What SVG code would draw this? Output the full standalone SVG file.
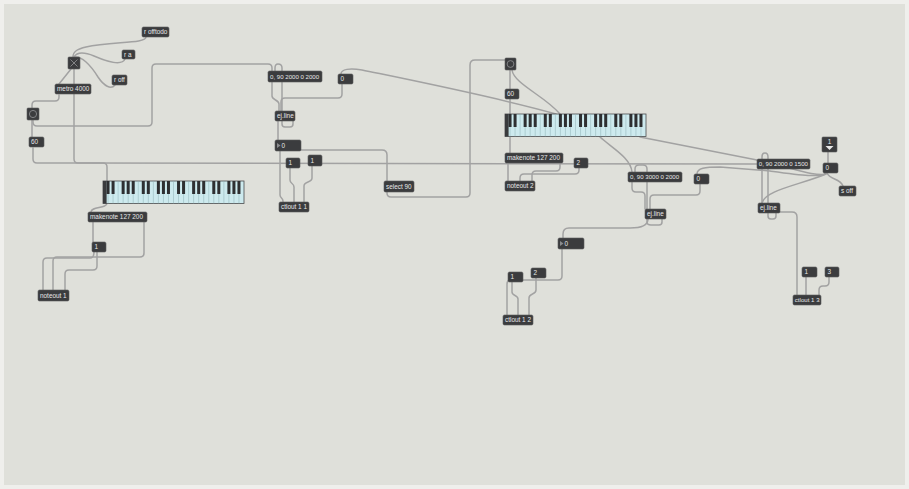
<svg xmlns="http://www.w3.org/2000/svg" xmlns:xlink="http://www.w3.org/1999/xlink" width="909" height="489" viewBox="0 0 909 489">
<style>
.bx{fill:#3b3c3e;stroke:#5a5b5d;stroke-width:0.6}
.t{font-family:"Liberation Sans",Arial,sans-serif;font-size:6.4px;fill:#e8e8e8}
.s{font-size:6.1px}
.c{fill:none;stroke:#a2a2a2;stroke-width:1.5;stroke-linecap:round;stroke-linejoin:round}
.ic{fill:none;stroke:#8a8b8d;stroke-width:0.9}
.tri{fill:#8a8b8d}
</style>
<defs>
<g id="kbdef">
<rect x="0" y="0" width="141" height="22.5" fill="#cdeaee" stroke="#4a4b4d" stroke-width="0.8"/>
<path d="M5.04 0V22.5M10.07 0V22.5M15.11 0V22.5M20.14 0V22.5M25.18 0V22.5M30.21 0V22.5M35.25 0V22.5M40.29 0V22.5M45.32 0V22.5M50.36 0V22.5M55.39 0V22.5M60.43 0V22.5M65.46 0V22.5M70.5 0V22.5M75.54 0V22.5M80.57 0V22.5M85.61 0V22.5M90.64 0V22.5M95.68 0V22.5M100.71 0V22.5M105.75 0V22.5M110.79 0V22.5M115.82 0V22.5M120.86 0V22.5M125.89 0V22.5M130.93 0V22.5M135.96 0V22.5" stroke="#8fb0b5" stroke-width="0.5"/>
<rect x="0" y="0" width="3.6" height="22.5" fill="#3a3b3d"/>
<g fill="#2e2f31">
<rect x="3.54" y="0" width="3" height="13"/><rect x="8.57" y="0" width="3" height="13"/><rect x="18.64" y="0" width="3" height="13"/><rect x="23.68" y="0" width="3" height="13"/><rect x="28.71" y="0" width="3" height="13"/>
<rect x="38.79" y="0" width="3" height="13"/><rect x="43.82" y="0" width="3" height="13"/><rect x="53.89" y="0" width="3" height="13"/><rect x="58.93" y="0" width="3" height="13"/><rect x="63.96" y="0" width="3" height="13"/>
<rect x="74.04" y="0" width="3" height="13"/><rect x="79.07" y="0" width="3" height="13"/><rect x="89.14" y="0" width="3" height="13"/><rect x="94.18" y="0" width="3" height="13"/><rect x="99.21" y="0" width="3" height="13"/>
<rect x="109.29" y="0" width="3" height="13"/><rect x="114.32" y="0" width="3" height="13"/><rect x="124.39" y="0" width="3" height="13"/><rect x="129.43" y="0" width="3" height="13"/><rect x="134.46" y="0" width="3" height="13"/>
</g>
</g>
</defs>
<rect x="0" y="0" width="909" height="489" fill="#efefec"/>
<rect x="4" y="4" width="901" height="481" fill="#dfe0da"/>

<g id="connectors">
<path class="c" d="M146 37 C146 44,110 41,86 47 C78 49,73 51,73 57"/>
<path class="c" d="M125 59 C122 66,108 62,94 56 C84 52,77 52,74 57"/>
<path class="c" d="M115 85 C111 90,104 86,98 77 C90 64,81 56,75 57"/>
<path class="c" d="M71 69 L59 84"/>
<path class="c" d="M74 69 L74 159 Q74 163 78 163 L757 164"/>
<path class="c" d="M59 95 L59 97 Q59 101 55 101 L36 101 Q32 101 32 105 L32 108"/>
<path class="c" d="M32 120 L32 137"/>
<path class="c" d="M33 120 L33 122 Q33 126 37 126 L148 126 Q152 126 152 122 L152 68 Q152 64 156 64 L268 64 Q272 64 272 68 L272 71"/>
<path class="c" d="M33 148 L33 159 Q33 163 37 163 L103 163 Q107 163 107 167 L107 181"/>
<path class="c" d="M107 203 C107 209,91 206,91 212"/>
<path class="c" d="M93 222 L93 242"/>
<path class="c" d="M94 252 Q94 258 90 258 L47 258 Q43 258 43 262 L43 290"/>
<path class="c" d="M97 252 L97 266 Q97 270 93 270 L69 270 Q65 270 65 274 L65 290"/>
<path class="c" d="M144 222 L144 253 Q144 257 140 257 L57 257 Q53 257 53 261 L53 290"/>
<path class="c" d="M272 82 L272 96 C272 100,279 100,279 104 L279 111"/>
<path class="c" d="M342 84 L342 94 Q342 98 338 98 L285 98 Q281 98 281 102 L281 111"/>
<path class="c" d="M293 121 L293 124 Q293 127 290 127 L285 127 Q282 127 282 124 L282 68 Q282 64 278 64 Q275 64 275 68 L275 71"/>
<path class="c" d="M278 121 L278 140"/>
<path class="c" d="M280 151 L280 195 C280 198,283 198,283 201 L283 202"/>
<path class="c" d="M279 150 L382 150 Q387 150 387 155 L387 181"/>
<path class="c" d="M290 168 L290 180 C290 184,294 183,294 187 L294 202"/>
<path class="c" d="M312 166 L312 178 C312 183,304 181,304 186 L304 202"/>
<path class="c" d="M387 192 L387 193 Q387 197 391 197 L466 197 Q470 197 470 193 L470 65 Q470 60 475 60 L505 60"/>
<path class="c" d="M341 74 C341 69,350 68,362 70 C420 82,500 98,556 114"/>
<path class="c" d="M512 70 C514 84,545 96,560 114"/>
<path class="c" d="M510 70 L510 89"/>
<path class="c" d="M510 99 L510 114"/>
<path class="c" d="M510 137 L510 153"/>
<path class="c" d="M508 163 L508 181"/>
<path class="c" d="M560 163 L560 167 Q560 171 556 171 L536 171 Q532 171 532 175 L532 181"/>
<path class="c" d="M579 168 L579 170 Q579 174 575 174 L524 174 Q520 174 520 178 L520 181"/>
<path class="c" d="M600 137 C612 148,631 158,632 172"/>
<path class="c" d="M662 219 L662 222 Q662 225 659 225 L651 225 Q647 225 647 222 L647 169 Q647 165 643 165 L639 165 Q635 165 635 169 L635 172"/>
<path class="c" d="M632 182 L632 188 Q632 192 636 192 L641 192 Q645 192 645 196 L645 209"/>
<path class="c" d="M700 184 L700 191 Q700 195 696 195 L654 195 Q650 195 650 199 L650 209"/>
<path class="c" d="M648 219 C648 226,640 228,630 228 L569 228 Q563 228 563 234 L563 238"/>
<path class="c" d="M562 249 L562 276 Q562 280 558 280 L511 280 Q507 280 507 284 L507 315"/>
<path class="c" d="M512 282 L512 292 C512 296,518 295,518 299 L518 315"/>
<path class="c" d="M536 278 L536 290 C536 295,529 293,529 298 L529 315"/>
<path class="c" d="M697 174 C697 168,705 167,720 167 L770 171 C800 175,822 178,826 173"/>
<path class="c" d="M640 137 L757 160 C790 167,815 177,826 174"/>
<path class="c" d="M762 203 C765 190,800 185,826 174"/>
<path class="c" d="M827 173 C830 180,840 178,843 186"/>
<path class="c" d="M828 152 L828 163"/>
<path class="c" d="M762 169 L762 203"/>
<path class="c" d="M776 213 L776 216 Q776 219 773 219 L771 219 Q768 219 768 216 L768 157 Q768 153 765 153 Q762 153 762 157 L762 159"/>
<path class="c" d="M778 212 L792 212 Q797 212 797 217 L797 295"/>
<path class="c" d="M806 277 L806 295"/>
<path class="c" d="M829 277 L829 282 Q829 286 825 286 L823 286 Q819 286 819 290 L819 295"/>
</g>

<g id="r_offtodo"><rect class="bx" x="142" y="27" width="27" height="10" rx="1.5"/><text class="t" x="144" y="34.3">r offtodo</text></g>
<g id="r_a"><rect class="bx" x="122" y="50" width="13" height="9" rx="1.5"/><text class="t" x="124" y="57">r a</text></g>
<g id="toggle1"><rect class="bx" x="68" y="57" width="12" height="12" rx="1"/><path class="ic" d="M70.5 59.5 L77.5 66.5 M77.5 59.5 L70.5 66.5"/></g>
<g id="r_off"><rect class="bx" x="112" y="75" width="15" height="10" rx="1.5"/><text class="t" x="114" y="82.3">r off</text></g>
<g id="metro"><rect class="bx" x="55" y="84" width="36" height="10" rx="1.5"/><text class="t" x="57" y="91.3">metro 4000</text></g>
<g id="button1"><rect class="bx" x="27" y="108" width="12" height="12" rx="1"/><circle class="ic" cx="33" cy="114" r="3.6"/></g>
<g id="num60a"><rect class="bx" x="29" y="137" width="15" height="10" rx="1.5"/><text class="t" x="31" y="144.3">60</text></g>
<g id="kslider1"><use xlink:href="#kbdef" transform="translate(103,181)"/></g>
<g id="makenote1"><rect class="bx" x="88" y="212" width="59" height="10" rx="1.5"/><text class="t" x="90" y="219.3">makenote 127 200</text></g>
<g id="msg1a"><rect class="bx" x="92" y="242" width="14" height="10" rx="1.5"/><text class="t" x="94.5" y="249.3">1</text></g>
<g id="noteout1"><rect class="bx" x="38" y="290" width="31" height="11" rx="1.5"/><text class="t" x="40" y="297.8">noteout 1</text></g>

<g id="msgA"><rect class="bx" x="268" y="71" width="54" height="11" rx="1.5"/><text class="t s" x="270" y="78.6">0, 90 2000 0 2000</text></g>
<g id="msg0a"><rect class="bx" x="338" y="74" width="15" height="10" rx="1.5"/><text class="t" x="340.5" y="81.3">0</text></g>
<g id="ejline1"><rect class="bx" x="275" y="111" width="20" height="10" rx="1.5"/><text class="t" x="277" y="118.3">ej.line</text></g>
<g id="flonum1"><rect class="bx" x="275" y="140" width="26" height="11" rx="1.5"/><polygon class="tri" points="277,143 277,148 280.5,145.5"/><text class="t" x="281.5" y="147.8">0</text></g>
<g id="msg1b"><rect class="bx" x="286" y="158" width="14" height="10" rx="1.5"/><text class="t" x="288.5" y="165.3">1</text></g>
<g id="msg1c"><rect class="bx" x="308" y="155" width="14" height="11" rx="1.5"/><text class="t" x="310.5" y="162.8">1</text></g>
<g id="ctlout11"><rect class="bx" x="279" y="202" width="30" height="10" rx="1.5"/><text class="t" x="281" y="209.3">ctlout 1 1</text></g>
<g id="select90"><rect class="bx" x="384" y="181" width="30" height="11" rx="1.5"/><text class="t" x="386" y="188.8">select 90</text></g>

<g id="button2"><rect class="bx" x="505" y="58" width="11" height="12" rx="1"/><circle class="ic" cx="510.5" cy="64" r="3.4"/></g>
<g id="num60b"><rect class="bx" x="505" y="89" width="14" height="10" rx="1.5"/><text class="t" x="507" y="96.3">60</text></g>
<g id="kslider2"><use xlink:href="#kbdef" transform="translate(505,114)"/></g>
<g id="makenote2"><rect class="bx" x="505" y="153" width="58" height="10" rx="1.5"/><text class="t" x="507" y="160.3">makenote 127 200</text></g>
<g id="msg2"><rect class="bx" x="574" y="158" width="14" height="10" rx="1.5"/><text class="t" x="576.5" y="165.3">2</text></g>
<g id="noteout2"><rect class="bx" x="505" y="181" width="30" height="10" rx="1.5"/><text class="t" x="507" y="188.3">noteout 2</text></g>

<g id="msgB"><rect class="bx" x="628" y="172" width="54" height="10" rx="1.5"/><text class="t s" x="630" y="179.3">0, 90 3000 0 2000</text></g>
<g id="msg0b"><rect class="bx" x="694" y="174" width="15" height="10" rx="1.5"/><text class="t" x="696.5" y="181.3">0</text></g>
<g id="ejline2"><rect class="bx" x="645" y="209" width="21" height="10" rx="1.5"/><text class="t" x="647" y="216.3">ej.line</text></g>
<g id="flonum2"><rect class="bx" x="558" y="238" width="26" height="11" rx="1.5"/><polygon class="tri" points="560,241 560,246 563.5,243.5"/><text class="t" x="564.5" y="245.8">0</text></g>
<g id="msg1d"><rect class="bx" x="508" y="272" width="15" height="10" rx="1.5"/><text class="t" x="510.5" y="279.3">1</text></g>
<g id="msg2b"><rect class="bx" x="531" y="268" width="15" height="10" rx="1.5"/><text class="t" x="533.5" y="275.3">2</text></g>
<g id="ctlout12"><rect class="bx" x="503" y="315" width="30" height="10" rx="1.5"/><text class="t" x="505" y="322.3">ctlout 1 2</text></g>

<g id="msgC"><rect class="bx" x="757" y="159" width="53" height="10" rx="1.5"/><text class="t s" x="758.8" y="166.3">0, 90 2000 0 1500</text></g>
<g id="menu1"><rect class="bx" x="822" y="137" width="15" height="15" rx="1"/><text class="t" x="827.8" y="143.6">1</text><polygon points="825.5,146 833.5,146 829.5,150" fill="#e8e8e8"/></g>
<g id="msg0c"><rect class="bx" x="823" y="163" width="15" height="10" rx="1.5"/><text class="t" x="825.5" y="170.3">0</text></g>
<g id="s_off"><rect class="bx" x="839" y="186" width="17" height="10" rx="1.5"/><text class="t" x="841" y="193.3">s off</text></g>
<g id="ejline3"><rect class="bx" x="758" y="203" width="22" height="10" rx="1.5"/><text class="t" x="760" y="210.3">ej.line</text></g>
<g id="msg1e"><rect class="bx" x="802" y="267" width="15" height="10" rx="1.5"/><text class="t" x="804.5" y="274.3">1</text></g>
<g id="msg3"><rect class="bx" x="825" y="267" width="14" height="10" rx="1.5"/><text class="t" x="827.5" y="274.3">3</text></g>
<g id="ctlout13"><rect class="bx" x="793" y="295" width="28" height="10" rx="1.5"/><text class="t s" x="794.8" y="302.3">ctlout 1 3</text></g>
</svg>
